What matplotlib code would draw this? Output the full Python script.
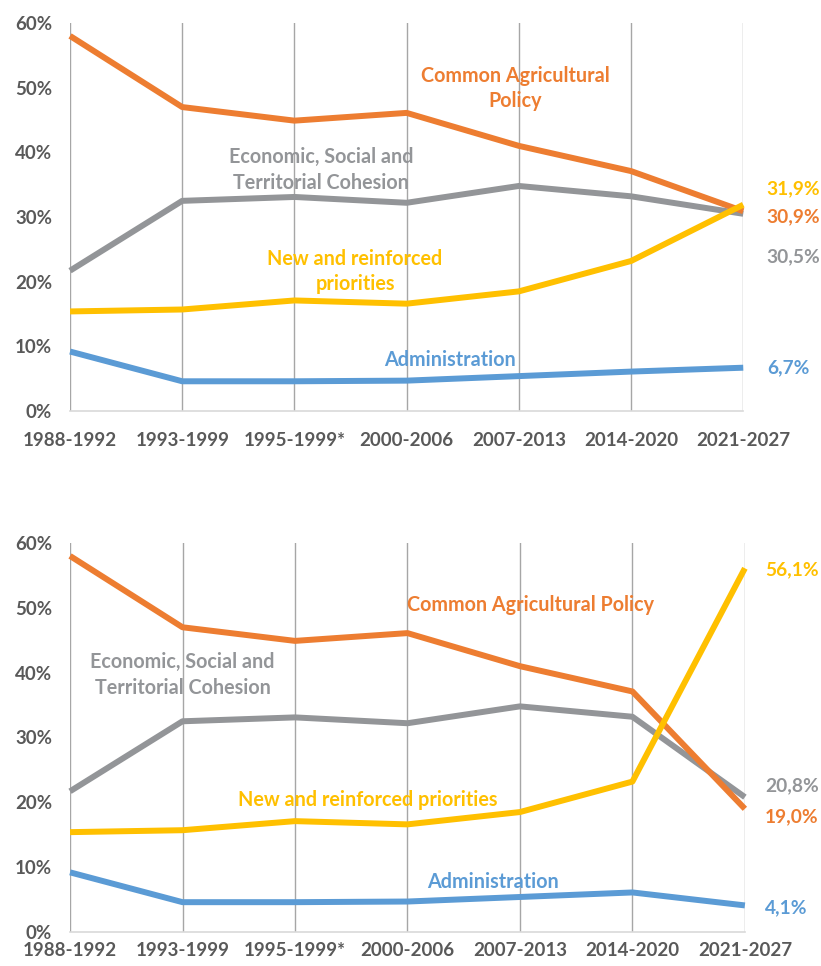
import matplotlib.pyplot as plt
import numpy as np

plt.rcParams['font.family'] = ['Lato', 'DejaVu Sans']
plt.rcParams['font.weight'] = 'bold'

periods = ['1988-1992', '1993-1999', '1995-1999*', '2000-2006',
           '2007-2013', '2014-2020', '2021-2027']

# shares in %, last period differs between the two panels
cap_top = [58.0, 47.0, 44.9, 46.1, 41.0, 37.1, 30.9]
cohesion_top = [21.7, 32.5, 33.1, 32.2, 34.8, 33.2, 30.5]
priorities_top = [15.4, 15.7, 17.1, 16.6, 18.5, 23.2, 31.9]
admin_top = [9.2, 4.6, 4.6, 4.7, 5.4, 6.1, 6.7]

cap_bottom = [58.0, 47.0, 44.9, 46.1, 41.0, 37.1, 19.0]
cohesion_bottom = [21.7, 32.5, 33.1, 32.2, 34.8, 33.2, 20.8]
priorities_bottom = [15.4, 15.7, 17.1, 16.6, 18.5, 23.2, 56.1]
admin_bottom = [9.2, 4.6, 4.6, 4.7, 5.4, 6.1, 4.1]

orange = '#ED7D31'
grey = '#939598'
yellow = '#FFC000'
blue = '#5B9BD5'
tick_col = '#595959'

fig = plt.figure(figsize=(8.21, 9.66), dpi=100)
ax1 = fig.add_axes([0.0853, 0.5745, 0.820, 0.4017])
ax2 = fig.add_axes([0.0853, 0.0352, 0.822, 0.4027])

x = np.arange(len(periods))


def setup(ax, xpad):
    ax.set_xlim(0, 6)
    ax.set_ylim(0, 60)
    for s in ['top', 'right', 'left']:
        ax.spines[s].set_visible(False)
    ax.spines['bottom'].set_color('#d9d9d9')
    ax.spines['bottom'].set_linewidth(1.2)
    for xi in x:
        ax.axvline(xi, color='#a6a6a6', lw=1.0, zorder=1)
    ax.set_xticks(x)
    ax.set_xticklabels(periods)
    ax.set_yticks(np.arange(0, 61, 10))
    ax.set_yticklabels(['%d%%' % v for v in range(0, 61, 10)])
    ax.tick_params(length=0, labelsize=13.5, labelcolor=tick_col, pad=13)
    ax.tick_params(axis='x', pad=xpad)
    for lab in ax.get_xticklabels() + ax.get_yticklabels():
        lab.set_fontweight('bold')


def draw(ax, cap, coh, pri, adm):
    for vals, col in [(coh, grey), (cap, orange), (adm, blue), (pri, yellow)]:
        ax.plot(x, vals, color=col, lw=4.3, solid_joinstyle='round',
                solid_capstyle='butt', zorder=3, clip_on=False)


setup(ax1, 15)
draw(ax1, cap_top, cohesion_top, priorities_top, admin_top)
kw = dict(fontsize=14.2, fontweight='bold', ha='center', va='center', linespacing=1.35)
ax1.text(3.97, 49.9, 'Common Agricultural\nPolicy', color=orange, **kw)
ax1.text(2.24, 37.3, 'Economic, Social and\nTerritorial Cohesion', color=grey, **kw)
ax1.text(2.54, 21.6, 'New and reinforced\npriorities', color=yellow, **kw)
ax1.text(3.39, 7.9, 'Administration', color=blue, **kw)
vk = dict(fontsize=13.8, fontweight='bold', ha='left', va='center')
ax1.text(6.21, 34.3, '31,9%', color=yellow, **vk)
ax1.text(6.21, 30.0, '30,9%', color=orange, **vk)
ax1.text(6.21, 23.8, '30,5%', color=grey, **vk)
ax1.text(6.21, 6.65, '6,7%', color=blue, **vk)

setup(ax2, 7)
draw(ax2, cap_bottom, cohesion_bottom, priorities_bottom, admin_bottom)
ax2.text(4.09, 50.4, 'Common Agricultural Policy', color=orange, **kw)
ax2.text(1.0, 39.6, 'Economic, Social and\nTerritorial Cohesion', color=grey, **kw)
ax2.text(2.65, 20.4, 'New and reinforced priorities', color=yellow, **kw)
ax2.text(3.76, 7.7, 'Administration', color=blue, **kw)
ax2.text(6.18, 55.8, '56,1%', color=yellow, **vk)
ax2.text(6.18, 22.5, '20,8%', color=grey, **vk)
ax2.text(6.18, 17.7, '19,0%', color=orange, **vk)
ax2.text(6.18, 3.7, '4,1%', color=blue, **vk)

fig.savefig('out.png', dpi=100)
